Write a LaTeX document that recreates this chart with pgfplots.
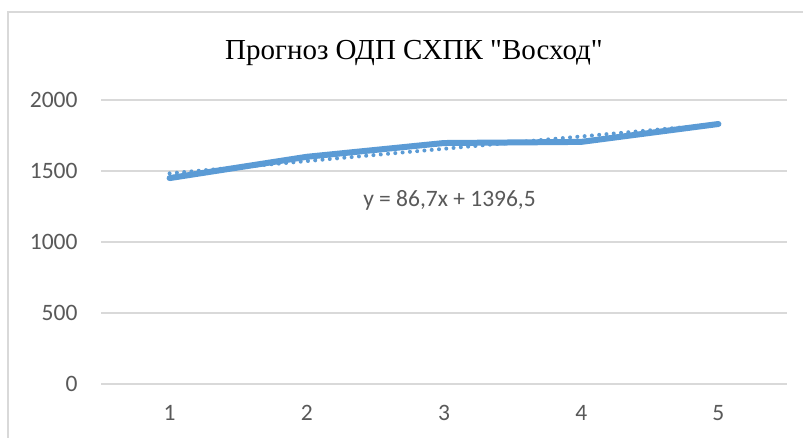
\documentclass[border=0pt]{standalone}
\usepackage{fontspec}
\setmainfont{Liberation Serif}
\newfontfamily\calibri{Carlito}
\usepackage{pgfplots}
\pgfplotsset{compat=1.18}
\definecolor{linecol}{HTML}{5B9BD5}
\definecolor{gridcol}{HTML}{D9D9D9}
\definecolor{labcol}{HTML}{595959}
\begin{document}
\begin{tikzpicture}[x=1bp,y=1bp]
\useasboundingbox (0,0) rectangle (803,-438);
\fill[white] (0,0) rectangle (803,-438);
\draw[gridcol, line width=1.3bp] (8,-12) rectangle (840,-470);
\node[anchor=base, font=\fontsize{29bp}{33bp}\selectfont] at (414,-60) {Прогноз ОДП СХПК \textquotedbl Восход\textquotedbl};
\begin{axis}[
  at={(101bp,-384bp)}, anchor=origin,
  width=686bp, height=284bp, scale only axis,
  xmin=0.5, xmax=5.5, ymin=0, ymax=2000,
  xtick={1,2,3,4,5}, ytick={0,500,1000,1500,2000},
  ymajorgrids, grid style={gridcol, line width=1.3bp},
  axis line style={draw=none}, tick style={draw=none},
  /pgf/number format/assume math mode=true,
  /pgf/number format/set thousands separator={},
  ticklabel style={font=\calibri\fontsize{23.5bp}{28bp}\selectfont, text=labcol},
  yticklabel style={xshift=-20bp},
  xticklabel style={yshift=-18bp},
  clip=false,
]
\addplot[linecol, line width=6bp, line cap=round, line join=round] coordinates {
  (1,1450) (2,1600) (3,1697) (4,1705) (5,1831)
};
\addplot[linecol, line width=4bp, line cap=round, dash pattern=on 0.01bp off 7.3bp] coordinates {
  (1,1483.2) (5,1830.0)
};
\node[font=\calibri\fontsize{23.5bp}{28bp}\selectfont, text=labcol] at (axis cs:3.04,1296) {y = 86,7x + 1396,5};
\end{axis}
\end{tikzpicture}
\end{document}
